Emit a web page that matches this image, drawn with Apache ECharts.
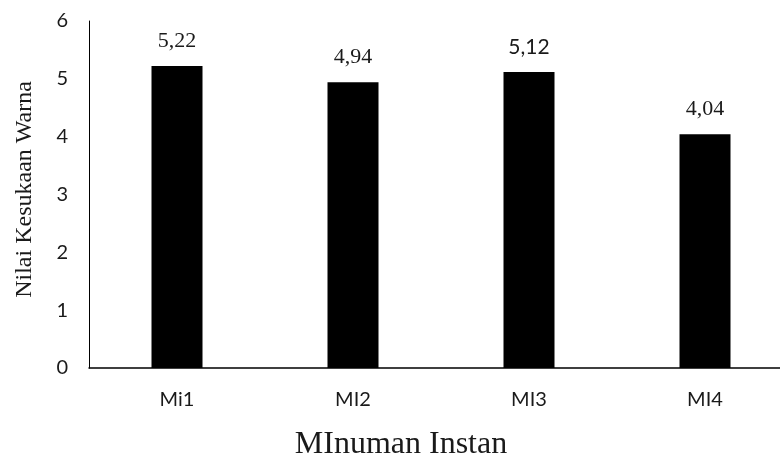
<!DOCTYPE html>
<html>
<head>
<meta charset="utf-8">
<style>
  html, body { margin: 0; padding: 0; background: #ffffff; }
  #chart { width: 780px; height: 457px; }
</style>
<script src="https://cdn.jsdelivr.net/npm/echarts@6/dist/echarts.min.js"></script>
</head>
<body>
<div id="chart"></div>
<script>
// Colour-preference scores of the instant drinks
const categories = ['Mi1', 'MI2', 'MI3', 'MI4'];
const scores = [5.22, 4.94, 5.12, 4.04];
const valueLabels = ['5,22', '4,94', '5,12', '4,04'];
const labelFonts = ['serif', 'serif', 'sans', 'serif'];
const yTicks = [0, 1, 2, 3, 4, 5, 6];

const SERIF = '"Liberation Serif", "Times New Roman", serif';
const SANS = 'Lato, "Open Sans", sans-serif';

const chart = echarts.init(document.getElementById('chart'));

const barData = scores.map((v, i) => ({
  value: v,
  label: {
    formatter: valueLabels[i],
    fontFamily: labelFonts[i] === 'serif' ? SERIF : SANS,
    fontSize: labelFonts[i] === 'serif' ? 22 : 21
  }
}));

chart.setOption({
  animation: false,
  backgroundColor: '#ffffff',
  // plot area runs a little past the right edge of the canvas
  grid: { left: 89, right: -13, top: 21, bottom: 89, outerBoundsMode: 'none', containLabel: false },
  xAxis: {
    type: 'category',
    data: categories,
    name: 'MInuman Instan',
    nameLocation: 'middle',
    nameGap: 61,
    nameTextStyle: {
      fontFamily: SERIF, fontSize: 32, color: '#1a1a1a',
      padding: [0, 80, 0, 0]
    },
    axisLine: { lineStyle: { color: '#000', width: 1.5 } },
    axisTick: { show: false },
    axisLabel: { fontFamily: SANS, fontSize: 20, color: '#1a1a1a', margin: 22 }
  },
  yAxis: {
    type: 'value',
    min: yTicks[0],
    max: yTicks[yTicks.length - 1],
    interval: 1,
    name: 'Nilai Kesukaan Warna',
    nameLocation: 'middle',
    nameGap: 52,
    nameTextStyle: {
      fontFamily: SERIF, fontSize: 24, color: '#1a1a1a',
      padding: [0, 0, 0, 10]
    },
    axisLine: { show: true, lineStyle: { color: '#000', width: 1 } },
    axisTick: { show: false },
    splitLine: { show: false },
    axisLabel: { fontFamily: SANS, fontSize: 20, color: '#1a1a1a', margin: 21 }
  },
  series: [{
    type: 'bar',
    data: barData,
    barWidth: 51,
    itemStyle: { color: '#000000' },
    label: {
      show: true,
      position: 'top',
      distance: 14,
      color: '#1a1a1a'
    }
  }]
});
</script>
</body>
</html>
